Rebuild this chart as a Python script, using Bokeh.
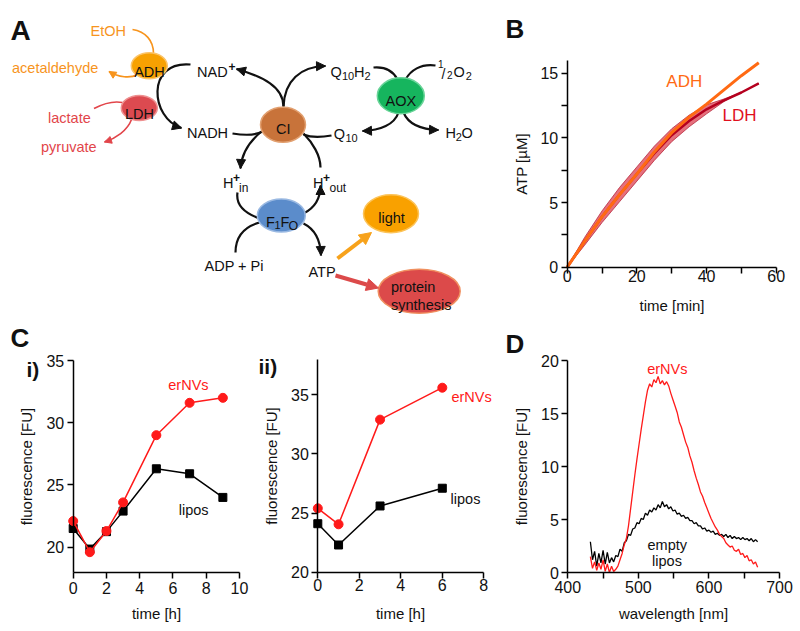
import math
from bokeh.plotting import figure
from bokeh.models import Range1d, FixedTicker, Label, Arrow, NormalHead, ColumnDataSource, LinearAxis
from bokeh.embed import file_html
from bokeh.resources import INLINE
from bokeh.core.properties import value

FONT = "Liberation Sans"
INK = "#111111"
RED = "#ff1a1a"
W, H = 798, 628

# ---------------- data ----------------
# Panel B: ATP production [uM] vs time [min]
time_min = [0, 5, 10, 15, 20, 25, 30, 35, 40, 45, 50, 55]
atp_adh = [0, 2.0, 3.9, 5.6, 7.2, 8.9, 10.4, 11.6, 12.6, 13.7, 14.8, 15.8]
atp_ldh = [0, 2.0, 3.9, 5.6, 7.2, 8.8, 10.2, 11.3, 12.2, 12.9, 13.5, 14.2]
atp_ldh_sd = [0, 0.3, 0.45, 0.55, 0.55, 0.55, 0.5, 0.45, 0.35, 0.1, 0, 0]

# Panel C i)
ci_time_h = [0, 1, 2, 3, 5, 7, 9]
ci_ernvs = [22.1, 19.6, 21.3, 23.6, 29.0, 31.6, 32.0]
ci_lipos = [21.5, 19.85, 21.25, 22.9, 26.3, 25.9, 24.0]

# Panel C ii)
cii_time_h = [0, 1, 3, 6]
cii_ernvs = [25.4, 24.05, 32.9, 35.6]
cii_lipos = [24.1, 22.3, 25.6, 27.1]

# Panel D: emission spectra
wavelength_nm = list(range(432, 670, 3))
d_ernvs = [1.5, 0.4, 1.0, 0.2, 0.9, 0.3, 1.2, 0.1, 0.8, 0.0,
           0.6, 0.1, 0.3, 0.6, 1.2, 1.8, 2.6, 3.2, 4.4, 6.0,
           7.6, 9.2, 10.7, 12.1, 13.5, 14.8, 16.1, 17.2, 17.8, 17.5,
           18.2, 17.9, 18.5, 17.8, 18.1, 17.7, 18.0, 17.6, 16.9, 16.3,
           15.7, 15.1, 14.2, 13.7, 13.0, 12.3, 11.8, 11.0, 10.4, 9.6,
           8.9, 8.3, 7.6, 7.2, 6.6, 6.1, 5.6, 5.1, 4.7, 4.3,
           4.0, 3.6, 3.4, 3.2, 2.8, 2.6, 2.4, 2.5, 2.1, 2.0,
           2.2, 1.7, 1.8, 1.4, 1.6, 1.1, 1.2, 0.8, 1.0, 0.5]
d_empty_lipos = [2.9, 1.2, 2.0, 0.6, 1.8, 0.9, 2.1, 0.8, 1.9, 0.9,
                 1.4, 1.0, 1.6, 1.5, 2.2, 2.0, 2.8, 3.0, 3.6, 3.5,
                 4.1, 4.2, 4.7, 4.6, 5.1, 5.0, 5.6, 5.4, 5.9, 5.7,
                 6.1, 5.9, 6.4, 6.1, 6.7, 6.2, 6.4, 6.0, 6.2, 5.8,
                 5.9, 5.5, 5.6, 5.3, 5.4, 5.1, 5.2, 4.9, 4.9, 4.6,
                 4.7, 4.4, 4.4, 4.1, 4.2, 3.9, 4.0, 3.8, 3.9, 3.6,
                 3.7, 3.5, 3.6, 3.4, 3.6, 3.3, 3.5, 3.2, 3.4, 3.2,
                 3.3, 3.1, 3.3, 3.1, 3.2, 3.0, 3.2, 2.9, 3.1, 2.9]

# tick definitions
b_xticks, b_xminor = [0, 20, 40, 60], [10, 30, 50]
b_yticks, b_yminor = [0, 5, 10, 15], [2.5, 7.5, 12.5]
ci_xticks, ci_yticks = [0, 2, 4, 6, 8, 10], [20, 25, 30, 35]
cii_xticks, cii_yticks = [0, 2, 4, 6, 8], [20, 25, 30, 35]
d_xticks, d_xminor = [400, 500, 600, 700], [450, 550, 650]
d_yticks = [0, 5, 10, 15, 20]

# ---------------- diagram description (panel A, page pixels) ----------------
ellipses = [  # x, y, w, h, fill, line
    (148.8, 65.3, 36, 26, "#f7a102", "#fbc46a"),
    (138.8, 107.5, 36, 25, "#dc4a50", "#ee9090"),
    (282.5, 124.2, 45, 35, "#c8733a", "#e2a070"),
    (400.3, 95.3, 47, 36, "#16b55e", "#6ad499"),
    (280.8, 215.0, 48, 33, "#5b8ccb", "#9ab9e2"),
    (390.5, 213.3, 55, 38, "#f9a100", "#fcc45a"),
    (418.7, 290.8, 82, 44, "#dc4a4a", "#f09060"),
]
black_curves = [  # x0,y0, cx0,cy0, cx1,cy1, x1,y1, arrow
    (190, 64, 145, 60, 150, 118, 181, 127.5, True),
    (283, 106, 283, 86, 262, 76, 236, 68.5, True),
    (283, 106, 284, 80, 300, 66, 325, 65.5, True),
    (373, 67, 385, 66, 393, 71, 397, 79, False),
    (435, 65, 420, 63, 410, 70, 405, 79, False),
    (398, 112, 394, 124, 380, 130, 362, 130.5, True),
    (403, 112, 408, 124, 420, 129, 438, 129.5, True),
    (232, 133, 245, 135, 255, 135, 262, 131, False),
    (303, 134, 310, 137, 320, 137, 331, 135, False),
    (261, 131, 250, 140, 241, 152, 240, 168, True),
    (303, 133, 312, 142, 320, 155, 320, 167, False),
    (237, 192, 235, 205, 245, 213, 259, 218, False),
    (303, 213, 313, 208, 320, 200, 320, 185, True),
    (235, 252, 235, 235, 245, 226, 259, 222, False),
    (303, 223, 313, 228, 320, 238, 320.5, 255, True),
]
orange_curves = [
    (132, 29, 145, 31, 153, 40, 153, 53, False),
    (137, 74, 130, 78, 118, 77, 108.5, 71, True),
]
red_curves = [
    (93.5, 108, 103, 103, 112, 100, 122, 102, False),
    (131, 119, 127, 130, 115, 138, 104, 141.5, True),
]
ORANGE_T = "#f7941d"
RED_T = "#e2454a"
diagram_labels = [  # text, x, y(baseline), size, color, style, align
    ("A", 10, 30, "28px", INK, "bold", "left"),
    ("B", 505, 28, "26px", INK, "bold", "left"),
    ("C", 10, 337, "26px", INK, "bold", "left"),
    ("i)", 26, 369, "21px", INK, "bold", "left"),
    ("ii)", 258, 366, "21px", INK, "bold", "left"),
    ("D", 505, 343, "26px", INK, "bold", "left"),
    ("EtOH", 90, 30, "14.5px", ORANGE_T, "normal", "left"),
    ("acetaldehyde", 11.5, 67, "14.5px", ORANGE_T, "normal", "left"),
    ("lactate", 47.5, 117.5, "14.5px", RED_T, "normal", "left"),
    ("pyruvate", 40.5, 146, "14.5px", RED_T, "normal", "left"),
    ("ADH", 149, 71, "14.5px", INK, "normal", "center"),
    ("LDH", 139, 113.3, "14.5px", INK, "normal", "center"),
    ("NAD", 196.5, 71, "14.5px", INK, "normal", "left"),
    ("+", 228, 65.5, "12px", INK, "bold", "left"),
    ("NADH", 186.5, 132.7, "14.5px", INK, "normal", "left"),
    ("CI", 282.7, 128.3, "14.5px", INK, "normal", "center"),
    ("Q", 330, 71.7, "14.5px", INK, "normal", "left"),
    ("10", 341.5, 75.5, "11px", INK, "normal", "left"),
    ("H", 353.5, 71.7, "14.5px", INK, "normal", "left"),
    ("2", 364, 75.5, "11px", INK, "normal", "left"),
    ("1", 437.5, 63.5, "10px", INK, "normal", "left"),
    ("/", 441, 73.5, "14px", INK, "normal", "left"),
    ("2", 446.5, 74, "10px", INK, "normal", "left"),
    ("O", 453, 71.7, "14.5px", INK, "normal", "left"),
    ("2", 465.3, 75.5, "11px", INK, "normal", "left"),
    ("AOX", 400.3, 100.7, "14.5px", INK, "normal", "center"),
    ("Q", 333.3, 133.3, "14.5px", INK, "normal", "left"),
    ("10", 345, 137, "11px", INK, "normal", "left"),
    ("H", 445, 132.7, "14.5px", INK, "normal", "left"),
    ("2", 455.3, 136, "11px", INK, "normal", "left"),
    ("O", 461, 132.7, "14.5px", INK, "normal", "left"),
    ("H", 222.5, 182.7, "14.5px", INK, "normal", "left"),
    ("+", 232.5, 176.5, "12px", INK, "bold", "left"),
    ("in", 238.5, 187, "12px", INK, "normal", "left"),
    ("H", 312.5, 182.7, "14.5px", INK, "normal", "left"),
    ("+", 322.5, 176.5, "12px", INK, "bold", "left"),
    ("out", 329, 187, "12px", INK, "normal", "left"),
    ("F", 265.5, 221, "14.5px", INK, "normal", "left"),
    ("1", 274, 224, "11px", INK, "normal", "left"),
    ("F", 280, 221, "14.5px", INK, "normal", "left"),
    ("O", 288, 225, "12.5px", INK, "normal", "left"),
    ("ADP + Pi", 204, 265, "14.5px", INK, "normal", "left"),
    ("ATP", 308, 271.7, "14.5px", INK, "normal", "left"),
    ("light", 391, 217.3, "14.5px", INK, "normal", "center"),
    ("protein", 390.5, 286.5, "14.5px", INK, "normal", "left"),
    ("synthesis", 390.5, 304, "14.5px", INK, "normal", "left"),
]
thick_arrows = [  # x0, y0, x1, y1, color
    (337, 258, 371, 232, "#f7a21b"),
    (335, 275, 378, 287.5, "#dc4a4a"),
]

# ---------------- one canvas, page-pixel base ranges ----------------
p = figure(width=W, height=H, x_range=Range1d(0, W), y_range=Range1d(H, 0),
           x_axis_type=None, y_axis_type=None, title=None,
           output_backend="svg", toolbar_location=None,
           min_border=0, min_border_left=0, min_border_right=0, min_border_top=0, min_border_bottom=0)
p.outline_line_color = None
p.background_fill_color = "white"
p.border_fill_color = "white"
p.grid.visible = False


def panel_ranges(name, xv0, xp0, xv1, xp1, yv0, yp0, yv1, yp1):
    sx = (xp1 - xp0) / (xv1 - xv0)
    xs = xv0 - xp0 / sx
    sy = (yp0 - yp1) / (yv1 - yv0)
    ys = yv0 - (H - yp0) / sy
    p.extra_x_ranges[name + "_x"] = Range1d(xs, xs + W / sx)
    p.extra_y_ranges[name + "_y"] = Range1d(ys, yv0 + yp0 / sy)
    return dict(x_range_name=name + "_x", y_range_name=name + "_y")


def style_axis(ax, standoff):
    ax.axis_line_color = "black"
    ax.axis_line_width = 1.5
    ax.major_tick_line_color = "black"
    ax.major_tick_line_width = 1.5
    ax.minor_tick_line_color = "black"
    ax.minor_tick_line_width = 1.5
    ax.major_tick_in = 0
    ax.major_tick_out = 6
    ax.minor_tick_in = 0
    ax.minor_tick_out = 6
    ax.major_label_text_font = FONT
    ax.major_label_text_font_size = "16px"
    ax.major_label_text_color = INK
    ax.axis_label_text_font = FONT
    ax.axis_label_text_font_size = "15px"
    ax.axis_label_text_font_style = "normal"
    ax.axis_label_text_color = INK
    ax.major_label_standoff = standoff


def add_axes(rn, xt, xm, xbounds, x_at, xlabel, yt, ym, ybounds, y_at, ylabel,
             y_als=8, x_sto=0, x_als=10):
    xa = LinearAxis(fixed_location=x_at, bounds=xbounds, ticker=FixedTicker(ticks=xt, minor_ticks=xm),
                    axis_label=xlabel, axis_label_standoff=x_als, **rn)
    ya = LinearAxis(fixed_location=y_at, bounds=ybounds, ticker=FixedTicker(ticks=yt, minor_ticks=ym),
                    axis_label=ylabel, axis_label_standoff=y_als, **rn)
    style_axis(xa, x_sto)
    style_axis(ya, 3)
    p.add_layout(xa, "below")
    p.add_layout(ya, "left")


def add_label(rn, text, x, y, size, color, align="left"):
    p.add_layout(Label(x=x, y=y, text=text, text_font=FONT, text_font_size=size, text_color=color,
                       text_align=align, text_baseline="alphabetic", **rn))


def draw_curves(curves, color, width, head_size):
    src = dict(x0=[c[0] for c in curves], y0=[c[1] for c in curves],
               cx0=[c[2] for c in curves], cy0=[c[3] for c in curves],
               cx1=[c[4] for c in curves], cy1=[c[5] for c in curves],
               x1=[c[6] for c in curves], y1=[c[7] for c in curves])
    p.bezier(x0="x0", y0="y0", x1="x1", y1="y1", cx0="cx0", cy0="cy0", cx1="cx1", cy1="cy1",
             source=ColumnDataSource(src), line_color=color, line_width=width)
    xs, ys, xe, ye = [], [], [], []
    for c in curves:
        if not c[8]:
            continue
        dx, dy = c[6] - c[4], c[7] - c[5]
        n = math.hypot(dx, dy)
        xs.append(c[6] - dx / n * 2.0)
        ys.append(c[7] - dy / n * 2.0)
        xe.append(c[6])
        ye.append(c[7])
    if xs:
        p.add_layout(Arrow(end=NormalHead(size=head_size, fill_color=color, line_color=color, line_width=1),
                           source=ColumnDataSource(dict(xs=xs, ys=ys, xe=xe, ye=ye)),
                           x_start="xs", y_start="ys", x_end="xe", y_end="ye",
                           line_color=color, line_width=width))


# ---------------- panel A ----------------
for (x0, y0, x1, y1, col) in thick_arrows:
    p.add_layout(Arrow(end=NormalHead(size=12, fill_color=col, line_color=col, line_width=1),
                       x_start=x0, y_start=y0, x_end=x1, y_end=y1, line_color=col, line_width=4))
draw_curves(orange_curves, "#f7941d", 1.6, 7)
draw_curves(red_curves, "#e2454a", 1.6, 7)
draw_curves(black_curves, "#111111", 2.2, 9)
p.ellipse(x=[e[0] for e in ellipses], y=[e[1] for e in ellipses],
          width=[e[2] for e in ellipses], height=[e[3] for e in ellipses],
          fill_color=[e[4] for e in ellipses], line_color=[e[5] for e in ellipses], line_width=1.5)
for align in ("left", "center"):
    rows = [d for d in diagram_labels if d[6] == align]
    src = ColumnDataSource(dict(text=[d[0] for d in rows], x=[d[1] for d in rows], y=[d[2] for d in rows],
                                size=[d[3] for d in rows], color=[d[4] for d in rows],
                                style=[d[5] for d in rows]))
    p.text(x="x", y="y", text="text", source=src, text_font=value(FONT), text_font_size="size",
           text_color="color", text_font_style="style", text_align=align, text_baseline="alphabetic")

# ---------------- panel B ----------------
rb = panel_ranges("b", 0, 566.7, 60, 775.7, 0, 266.7, 15, 72.6)
add_axes(rb, b_xticks, b_xminor, (0, 60), 0, "time [min]", b_yticks, b_yminor, (0, 16), 0, "ATP [µM]",
         x_sto=-3, x_als=11)
ldh_lo = [a - s for a, s in zip(atp_ldh, atp_ldh_sd)]
ldh_hi = [a + s for a, s in zip(atp_ldh, atp_ldh_sd)]
p.varea(x=time_min, y1=ldh_lo, y2=ldh_hi, fill_color="#e2606f", fill_alpha=0.9, **rb)
p.line(time_min, ldh_lo, line_color="#b8283e", line_width=0.8, **rb)
p.line(time_min, ldh_hi, line_color="#b8283e", line_width=0.8, **rb)
p.line(time_min, atp_ldh, line_color="#b5001f", line_width=2.5, **rb)
p.line(time_min, atp_adh, line_color="#ff6a13", line_width=3, **rb)
add_label(rb, "ADH", 33.6, 14.37, "17px", "#ff6a13", align="center")
add_label(rb, "LDH", 49.5, 11.72, "17px", "#e0101e", align="center")

# ---------------- panel C i) ----------------
rci = panel_ranges("ci", 0, 72.7, 10, 239.0, 20, 546.7, 35, 360.0)
add_axes(rci, ci_xticks, [], (0, 10), 18, "time [h]", ci_yticks, [], (18, 35), 0, "fluorescence [FU]",
         y_als=9, x_sto=4, x_als=7)
p.line(ci_time_h, ci_lipos, line_color="black", line_width=1.5, **rci)
p.scatter(ci_time_h, ci_lipos, marker="square", size=8, fill_color="black", line_color="black", **rci)
p.line(ci_time_h, ci_ernvs, line_color=RED, line_width=1.5, **rci)
p.scatter(ci_time_h, ci_ernvs, marker="circle", size=9, fill_color=RED, line_color=RED, **rci)
add_label(rci, "erNVs", 6.93, 33.07, "14.5px", RED, align="center")
add_label(rci, "lipos", 7.24, 23.0, "14.5px", INK, align="center")

# ---------------- panel C ii) ----------------
rcii = panel_ranges("cii", 0, 317.3, 8, 483.3, 20, 571.7, 35, 394.3)
add_axes(rcii, cii_xticks, [], (0, 8), 20, "time [h]", cii_yticks, [], (20, 38), 0, "fluorescence [FU]",
         x_sto=1, x_als=10)
p.line(cii_time_h, cii_lipos, line_color="black", line_width=1.5, **rcii)
p.scatter(cii_time_h, cii_lipos, marker="square", size=8, fill_color="black", line_color="black", **rcii)
p.line(cii_time_h, cii_ernvs, line_color=RED, line_width=1.5, **rcii)
p.scatter(cii_time_h, cii_ernvs, marker="circle", size=9, fill_color=RED, line_color=RED, **rcii)
add_label(rcii, "erNVs", 6.44, 34.8, "14.5px", RED)
add_label(rcii, "lipos", 6.4, 26.23, "14.5px", INK)

# ---------------- panel D ----------------
rd = panel_ranges("d", 400, 567.3, 700, 779.0, 0, 572.0, 20, 360.0)
add_axes(rd, d_xticks, d_xminor, (400, 700), 0, "wavelength [nm]", d_yticks, [], (0, 20), 400,
         "fluorescence [FU]", x_sto=2, x_als=9)
p.line(wavelength_nm, d_empty_lipos, line_color="black", line_width=1.3, **rd)
p.line(wavelength_nm, d_ernvs, line_color=RED, line_width=1.3, **rd)
add_label(rd, "erNVs", 541, 19.22, "14.5px", RED, align="center")
add_label(rd, "empty", 541, 2.61, "14.5px", INK, align="center")
add_label(rd, "lipos", 540.6, 1.13, "14.5px", INK, align="center")

open("out.html", "w").write(file_html(p, INLINE))
